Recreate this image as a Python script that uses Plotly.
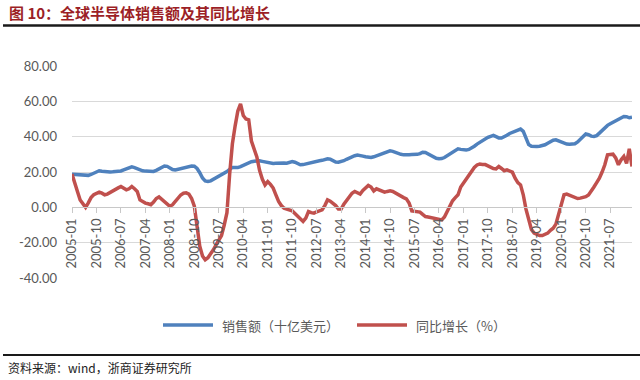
import plotly.graph_objects as go

# ---------------- data ----------------
years = list(range(2005, 2023))
categories = [f"{y}-{m:02d}" for y in years for m in range(1, 13)][:207]  # 2005-01 .. 2022-03

sales_2005 = [18.8, 18.7, 18.6, 18.4, 18.2, 18.0, 18.1, 18.6, 19.4, 20.4, 20.7, 20.4]
sales_2006 = [20.1, 20.0, 20.0, 20.1, 20.2, 20.3, 20.6, 21.2, 21.9, 22.6, 22.9, 22.5]
sales_2007 = [21.8, 21.0, 20.7, 20.5, 20.4, 20.3, 20.3, 20.9, 21.8, 22.8, 23.4, 23.2]
sales_2008 = [22.3, 21.4, 21.1, 21.5, 22.0, 22.2, 22.4, 22.9, 23.4, 23.3, 22.0, 19.6]
sales_2009 = [16.6, 14.9, 14.6, 15.0, 15.8, 16.6, 17.4, 18.3, 19.2, 20.2, 21.5, 22.6]
sales_2010 = [22.6, 22.5, 23.1, 23.9, 24.7, 25.3, 25.8, 26.1, 26.3, 26.3, 26.0, 25.6]
sales_2011 = [25.3, 25.0, 24.8, 24.9, 25.1, 25.2, 25.1, 25.0, 25.4, 25.9, 25.5, 24.6]
sales_2012 = [24.1, 24.2, 24.6, 25.1, 25.6, 26.1, 26.3, 26.4, 26.6, 27.0, 27.5, 27.3]
sales_2013 = [26.4, 25.6, 25.5, 25.8, 26.4, 27.2, 28.0, 28.6, 29.2, 29.6, 29.5, 29.0]
sales_2014 = [28.6, 28.2, 28.2, 28.6, 29.2, 29.9, 30.6, 31.3, 31.8, 32.0, 31.7, 31.0]
sales_2015 = [30.4, 30.0, 29.7, 29.6, 29.8, 29.9, 29.9, 30.0, 30.4, 31.2, 31.1, 30.2]
sales_2016 = [29.2, 28.3, 27.8, 27.5, 27.6, 28.2, 29.2, 30.4, 31.5, 32.6, 33.1, 32.8]
sales_2017 = [32.5, 32.4, 32.8, 33.6, 34.6, 35.8, 36.8, 37.8, 38.8, 39.6, 40.2, 40.7]
sales_2018 = [40.0, 39.3, 39.2, 39.8, 40.8, 41.8, 42.4, 42.9, 43.6, 44.3, 43.0, 39.0]
sales_2019 = [35.5, 34.6, 34.4, 34.5, 34.6, 34.8, 35.4, 36.3, 37.2, 38.0, 38.2, 37.6]
sales_2020 = [36.6, 36.0, 35.8, 35.7, 35.8, 36.0, 37.0, 38.4, 40.0, 41.5, 41.1, 40.3]
sales_2021 = [40.1, 40.6, 42.0, 43.5, 45.2, 46.4, 47.3, 48.2, 49.0, 49.8, 50.6, 51.4]
sales_2022 = [51.3, 50.7, 51.0]

yoy_2005 = [18.8, 14.6, 9.0, 4.2, 2.0, 0.0, 2.5, 5.5, 7.1, 8.0, 8.6, 8.0]
yoy_2006 = [7.1, 7.5, 8.5, 9.3, 10.0, 11.0, 11.8, 10.8, 9.9, 10.5, 11.8, 10.5]
yoy_2007 = [9.0, 4.2, 3.0, 2.4, 2.0, 1.5, 3.0, 5.0, 5.9, 4.5, 3.5, 2.0]
yoy_2008 = [0.6, 1.5, 3.5, 5.5, 7.0, 8.0, 8.2, 7.5, 5.0, 0.6, -9.9, -22.0]
yoy_2009 = [-27.5, -29.7, -28.5, -26.5, -24.0, -21.2, -18.5, -16.0, -10.0, -3.0, 19.0, 36.0]
yoy_2010 = [46.0, 54.5, 58.5, 52.0, 50.0, 49.5, 37.5, 33.0, 28.5, 21.0, 16.0, 12.7]
yoy_2011 = [14.6, 13.0, 10.9, 7.0, 3.3, 1.0, -0.5, -1.0, -1.5, -2.0, -3.5, -5.2]
yoy_2012 = [-6.5, -8.0, -6.1, -2.4, -3.0, -3.3, -2.5, -2.0, -1.4, 1.0, 4.2, 3.5]
yoy_2013 = [2.4, 1.0, -1.0, -1.0, 1.8, 4.0, 6.1, 8.0, 9.0, 8.0, 7.5, 9.5]
yoy_2014 = [11.0, 12.4, 11.5, 9.3, 10.5, 10.0, 9.5, 8.6, 9.0, 9.3, 9.0, 8.0]
yoy_2015 = [7.0, 6.1, 5.5, 4.8, 2.5, -2.0, -2.2, -2.5, -2.7, -4.0, -5.2, -5.5]
yoy_2016 = [-5.8, -5.8, -6.0, -6.5, -7.1, -5.5, -2.4, 1.0, 3.7, 5.5, 7.1, 11.5]
yoy_2017 = [13.7, 16.0, 18.0, 20.5, 22.6, 24.0, 24.5, 24.3, 24.2, 23.5, 22.6, 22.0]
yoy_2018 = [21.8, 23.1, 22.0, 20.7, 21.2, 20.8, 19.9, 16.5, 14.0, 12.7, 7.1, -1.0]
yoy_2019 = [-7.5, -12.5, -14.6, -15.5, -16.0, -16.0, -15.5, -14.6, -13.0, -11.8, -9.5, -4.5]
yoy_2020 = [2.0, 7.1, 7.5, 6.8, 6.0, 5.2, 5.0, 5.2, 5.5, 6.0, 7.0, 9.0]
yoy_2021 = [11.5, 14.0, 16.5, 20.0, 24.1, 29.7, 30.0, 30.1, 28.0, 24.1, 26.9, 28.8]
yoy_2022 = [24.9, 33.1, 23.1]

sales = (sales_2005 + sales_2006 + sales_2007 + sales_2008 + sales_2009 + sales_2010
         + sales_2011 + sales_2012 + sales_2013 + sales_2014 + sales_2015 + sales_2016
         + sales_2017 + sales_2018 + sales_2019 + sales_2020 + sales_2021 + sales_2022)
yoy = (yoy_2005 + yoy_2006 + yoy_2007 + yoy_2008 + yoy_2009 + yoy_2010
       + yoy_2011 + yoy_2012 + yoy_2013 + yoy_2014 + yoy_2015 + yoy_2016
       + yoy_2017 + yoy_2018 + yoy_2019 + yoy_2020 + yoy_2021 + yoy_2022)

x_tick_labels = ["2005-01", "2005-10", "2006-07", "2007-04", "2008-01", "2008-10",
                 "2009-07", "2010-04", "2011-01", "2011-10", "2012-07", "2013-04",
                 "2014-01", "2014-10", "2015-07", "2016-04", "2017-01", "2017-10",
                 "2018-07", "2019-04", "2020-01", "2020-10", "2021-07"]
y_tick_values = [-40, -20, 0, 20, 40, 60, 80]
y_tick_labels = ["-40.00", "-20.00", "0.00", "20.00", "40.00", "60.00", "80.00"]

series_names = ["销售额（十亿美元）", "同比增长（%）"]
title_text = "图 10：全球半导体销售额及其同比增长"
source_text = "资料来源：wind，浙商证券研究所"

# ---------------- figure ----------------
W, H = 640, 380
BLUE = "#4f81bd"
RED = "#c0504d"
GREY = "#595959"
FONT = "Lato, 'Noto Sans CJK SC', sans-serif"
CJK = "'Noto Sans CJK SC', sans-serif"

def px_x(p):
    return p / W

def px_y(p):
    return (H - p) / H

y_dom = [px_y(278), px_y(66)]
zero_pos = y_dom[0] + (0 - (-40)) / 120 * (y_dom[1] - y_dom[0])

fig = go.Figure()
fig.add_trace(go.Scatter(x=categories, y=sales, mode="lines", name=series_names[0],
                         line=dict(color=BLUE, width=3.5), showlegend=False))
fig.add_trace(go.Scatter(x=categories, y=yoy, mode="lines", name=series_names[1],
                         line=dict(color=RED, width=3.5), showlegend=False))

fig.update_layout(
    width=W, height=H,
    margin=dict(l=0, r=0, t=0, b=0),
    paper_bgcolor="white", plot_bgcolor="white",
    font=dict(family=FONT, size=13, color=GREY),
    hovermode=False,
    xaxis=dict(
        type="category", categoryorder="array", categoryarray=categories,
        range=[0, len(categories) - 1],
        domain=[px_x(72), px_x(632)],
        anchor="free", position=zero_pos,
        tickmode="array", tickvals=x_tick_labels, ticktext=x_tick_labels,
        tickangle=-90, showgrid=False,
        showline=True, linecolor="#c8c8c8", linewidth=1,
        ticks="outside", ticklen=5, tickcolor="#c8c8c8",
        tickfont=dict(family=FONT, size=13, color=GREY),
        automargin=False,
    ),
    yaxis=dict(
        range=[-40, 80], domain=y_dom,
        tickmode="array", tickvals=y_tick_values, ticktext=y_tick_labels,
        showgrid=True, gridcolor="#d9d9d9", gridwidth=1,
        zeroline=False, showline=False, ticks="",
        ticklabelstandoff=14,
        tickfont=dict(family=FONT, size=13, color=GREY),
        automargin=False,
    ),
)

shapes = [
    # rule under title
    dict(type="line", xref="paper", yref="paper", x0=px_x(3), x1=1, y0=px_y(25.5), y1=px_y(25.5),
         line=dict(color="#1a1a1a", width=2.5)),
    # rule above source
    dict(type="line", xref="paper", yref="paper", x0=px_x(3), x1=1, y0=px_y(355), y1=px_y(355),
         line=dict(color="#1a1a1a", width=2)),
    # legend samples
    dict(type="line", xref="paper", yref="paper", x0=px_x(163), x1=px_x(213), y0=px_y(325), y1=px_y(325),
         line=dict(color=BLUE, width=3.5)),
    dict(type="line", xref="paper", yref="paper", x0=px_x(357), x1=px_x(407), y0=px_y(325), y1=px_y(325),
         line=dict(color=RED, width=3.5)),
]
fig.update_layout(shapes=shapes)

annotations = [
    dict(text="<b>" + title_text + "</b>", xref="paper", yref="paper", x=px_x(7), y=px_y(13),
         xanchor="left", yanchor="middle", showarrow=False,
         font=dict(family=CJK, size=15, color="#9c1f26")),
    dict(text=series_names[0], xref="paper", yref="paper", x=px_x(220), y=px_y(325),
         xanchor="left", yanchor="middle", showarrow=False,
         font=dict(family=CJK, size=13, color=GREY)),
    dict(text=series_names[1], xref="paper", yref="paper", x=px_x(414), y=px_y(325),
         xanchor="left", yanchor="middle", showarrow=False,
         font=dict(family=CJK, size=13, color=GREY)),
    dict(text=source_text, xref="paper", yref="paper", x=px_x(6), y=px_y(367),
         xanchor="left", yanchor="middle", showarrow=False,
         font=dict(family=CJK, size=12, color="#222222")),
]
fig.update_layout(annotations=annotations)

fig.write_html("out.html",
               config={"displayModeBar": False, "staticPlot": True},
               post_script="document.body.style.margin='0';document.body.style.padding='0';")
